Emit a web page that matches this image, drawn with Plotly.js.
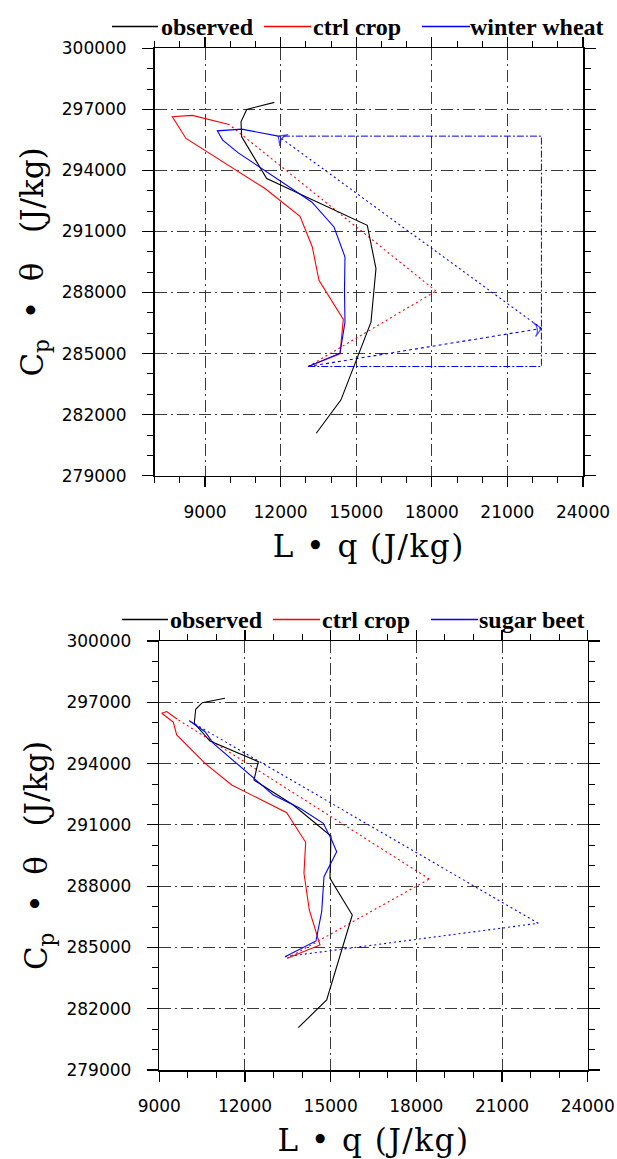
<!DOCTYPE html>
<html>
<head>
<meta charset="utf-8">
<script src="https://cdn.plot.ly/plotly-3.0.1.min.js"></script>
<style>html,body{margin:0;padding:0;background:#fff;}#chart{width:617px;height:1159px;}</style>
</head>
<body>
<div id="chart"></div>
<script>
// ---------- DATA ----------
// Top panel (winter wheat experiment)
const obsTopLq  = [13416, 14396, 15587, 15785, 15440, 11448, 10456, 10428, 10655, 11750];
const obsTopCpT = [281084, 282727, 286546, 289174, 291304, 293603, 295650, 296388, 296998, 297343];
const ctrlTopLq  = [13099, 14357, 14488, 13523, 13258, 12770, 11381, 8246, 7702, 8496, 9952];
const ctrlTopCpT = [284366, 284991, 286679, 288598, 290237, 291747, 293110, 295571, 296634, 296703, 296260];
const ctrlTopVertex = [18166, 288071];
const wheatLq  = [13099, 14357, 14555, 14535, 14555, 14119, 13234, 10321, 9702, 9488, 10456, 11908];
const wheatCpT = [284366, 285020, 286546, 288106, 289745, 291221, 292451, 294862, 295487, 295945, 296029, 295684];
const wheatVertex = [22350, 286236];

// Bottom panel (sugar beet experiment)
const obsBotLq  = [13866, 14861, 15757, 14976, 15011, 13691, 12315, 12466, 10775, 10225, 10274, 10505, 11300];
const obsBotCpT = [281071, 282427, 286588, 288384, 290455, 291972, 293196, 294092, 295105, 295971, 296657, 296980, 297195];
const ctrlBotLq  = [13481, 14626, 14252, 14066, 14125, 13460, 11535, 10600, 9609, 9490, 9084, 9259, 9620];
const ctrlBotCpT = [284468, 285119, 286832, 288629, 290146, 291595, 292951, 294013, 295399, 296035, 296461, 296549, 296182];
const ctrlBotVertex = [18453, 288350];
const beetLq  = [13401, 14486, 14686, 14766, 15211, 15036, 14742, 13926, 12991, 10891, 10600, 10050, 10180];
const beetCpT = [284546, 285315, 286749, 288462, 289686, 290259, 291076, 291811, 292462, 294992, 295560, 296099, 295986];
const beetVertex = [22269, 286181];

const topNames = ["observed", "ctrl crop", "winter wheat"];
const botNames = ["observed", "ctrl crop", "sugar beet"];
const xTitle = '<span style="letter-spacing:1.5px">L \u2022 q (J/kg)</span>';
const yTitle = 'C<sub>p</sub>\u00a0\u00a0\u2022\u00a0\u00a0\u03b8\u00a0\u00a0\u00a0(J/kg)';

// ---------- STYLE ----------
const W = 617, H = 1159;
const BLACK = "#000000", RED = "#ff0000", BLUE = "#0000ff";
const colors = [BLACK, RED, BLUE];
const topXRange = [7000, 24000], botXRange = [9000, 24000], yRange = [279000, 300000];
const topXDom = [154.6 / W, 583 / W], topYDom = [1 - 475.7 / H, 1 - 48.3 / H];
const botXDom = [159.3 / W, 587.7 / W], botYDom = [1 - 1070 / H, 1 - 641 / H];

const first = a => a[0], last = a => a[a.length - 1];

function line(x, y, color, dash, xa, ya, width, arrow) {
  const t = {x: x, y: y, type: "scatter", mode: "lines", xaxis: xa, yaxis: ya,
    line: {color: color, width: width || 1.1, dash: dash || "solid"}, showlegend: false, hoverinfo: "skip"};
  if (arrow) {
    t.mode = "lines+markers";
    t.marker = {symbol: x.map((_, i) => i === x.length - 1 ? "arrow-wide-open" : "circle"),
      size: x.map((_, i) => i === x.length - 1 ? 10 : 0), angleref: "previous",
      color: color, line: {color: color, width: 1.2}};
  }
  return t;
}
function vectors(lq, cpt, v, color, xa, ya, d1, d2, arrows) {
  return [
    line([first(lq), v[0]], [first(cpt), v[1]], color, d1, xa, ya, 1.1, arrows),
    line([v[0], last(lq)], [v[1], last(cpt)], color, d2, xa, ya, 1.1, arrows)
  ];
}

const traces = [];
// top panel
traces.push(line([first(wheatLq), wheatVertex[0], wheatVertex[0], last(wheatLq)],
                 [first(wheatCpT), first(wheatCpT), last(wheatCpT), last(wheatCpT)],
                 BLUE, "7px,2px,2px,2px", "x", "y", 1));
traces.push(...vectors(ctrlTopLq, ctrlTopCpT, ctrlTopVertex, RED, "x", "y", "2px,3px", "2px,3px", false));
traces.push(...vectors(wheatLq, wheatCpT, wheatVertex, BLUE, "x", "y", "3px,3px", "2px,3px", true));
traces.push(line(obsTopLq, obsTopCpT, BLACK, "solid", "x", "y"));
traces.push(line(ctrlTopLq, ctrlTopCpT, RED, "solid", "x", "y"));
traces.push(line(wheatLq, wheatCpT, BLUE, "solid", "x", "y"));
// bottom panel
traces.push(...vectors(ctrlBotLq, ctrlBotCpT, ctrlBotVertex, RED, "x2", "y2", "2px,3px", "2px,3px", false));
traces.push(...vectors(beetLq, beetCpT, beetVertex, BLUE, "x2", "y2", "2px,3px", "2px,3px", false));
traces.push(line(obsBotLq, obsBotCpT, BLACK, "solid", "x2", "y2"));
traces.push(line(ctrlBotLq, ctrlBotCpT, RED, "solid", "x2", "y2"));
traces.push(line(beetLq, beetCpT, BLUE, "solid", "x2", "y2"));

const tickFont = {family: "DejaVu Sans, Liberation Sans, sans-serif", size: 17, color: "#000"};
const titleFont = {family: "DejaVu Serif, Liberation Serif, serif", size: 31, color: "#000"};
const gridDash = "12px,4px,2px,4px";

function xAxis(dom, range, anchor) {
  return {domain: dom, range: range, anchor: anchor, tickmode: "linear", tick0: 0, dtick: 3000,
    tickformat: "d", ticks: "outside", ticklen: 10, tickwidth: 1.2, tickcolor: "#000",
    showline: true, linecolor: "#000", linewidth: 1.5, mirror: "ticks", zeroline: false,
    showgrid: true, gridcolor: "#3a3a3a", gridwidth: 1, griddash: gridDash,
    minor: {dtick: 1000, tick0: 0, ticks: "outside", ticklen: 6, tickwidth: 1, tickcolor: "#000", showgrid: false},
    tickfont: tickFont, ticklabelstandoff: 10,
    title: {text: xTitle, font: titleFont, standoff: 14}};
}
function yAxis(dom, anchor) {
  return {domain: dom, range: yRange, anchor: anchor, tickmode: "linear", tick0: 0, dtick: 3000,
    tickformat: "d", ticks: "outside", ticklen: 11, tickwidth: 1.2, tickcolor: "#000",
    showline: true, linecolor: "#000", linewidth: 1.5, mirror: "ticks", zeroline: false,
    showgrid: true, gridcolor: "#3a3a3a", gridwidth: 1, griddash: gridDash,
    minor: {dtick: 1000, tick0: 0, ticks: "outside", ticklen: 6, tickwidth: 1, tickcolor: "#000", showgrid: false},
    tickfont: tickFont, ticklabelstandoff: 12,
    title: {text: yTitle, font: titleFont, standoff: 9}};
}

const annotations = [];
const shapes = [];
// legends
const legFont = {family: "Liberation Serif, Times New Roman, serif", size: 24, color: "#000"};
function legend(names, lineX, textX, yLine, yText) {
  names.forEach((n, i) => {
    shapes.push({type: "line", xref: "paper", yref: "paper", x0: lineX[i][0] / W, x1: lineX[i][1] / W,
      y0: 1 - yLine / H, y1: 1 - yLine / H, line: {color: colors[i], width: 1.4}});
    annotations.push({xref: "paper", yref: "paper", x: textX[i] / W, y: 1 - yText / H, xanchor: "left", yanchor: "middle",
      text: "<b>" + n + "</b>", showarrow: false, font: legFont});
  });
}
legend(topNames, [[112, 158], [264, 311], [422, 470]], [159, 311, 468], 26.5, 27);
legend(botNames, [[122, 168], [273, 320], [431, 478]], [168, 320, 477], 619.5, 620);

const layout = {
  width: W, height: H, margin: {l: 0, r: 0, t: 0, b: 0},
  paper_bgcolor: "#fff", plot_bgcolor: "#fff", showlegend: false,
  xaxis: xAxis(topXDom, topXRange, "y"), yaxis: yAxis(topYDom, "x"),
  xaxis2: xAxis(botXDom, botXRange, "y2"), yaxis2: yAxis(botYDom, "x2"),
  annotations: annotations, shapes: shapes
};
Plotly.newPlot("chart", traces, layout, {staticPlot: true});
</script>
</body>
</html>
